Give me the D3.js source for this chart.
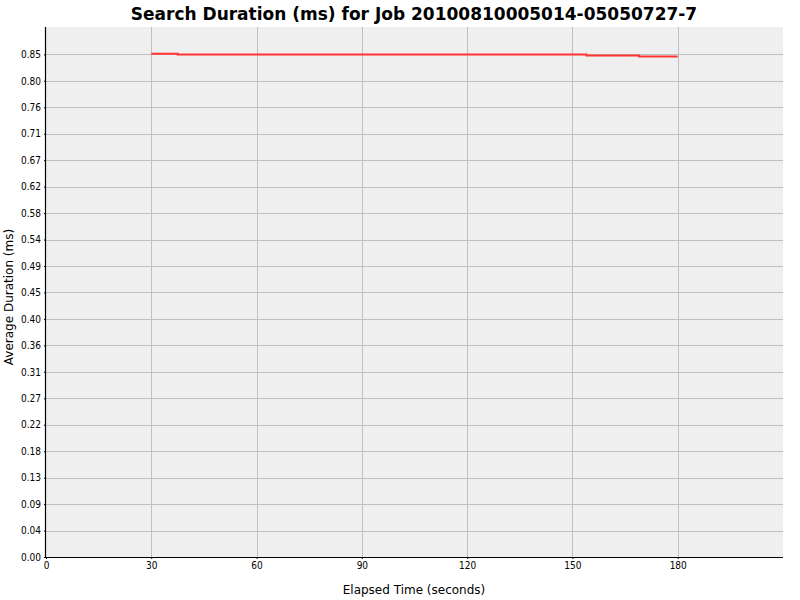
<!DOCTYPE html>
<html>
<head>
<meta charset="utf-8">
<script src="https://cdn.jsdelivr.net/npm/d3@7"></script>
<style>
  body { margin: 0; background: #fff; }
  svg { display: block; font-family: "DejaVu Sans", sans-serif; }
</style>
</head>
<body>
<svg id="chart"></svg>
<script>
var width = 800;
var height = 600;

var chartTitle = 'Search Duration (ms) for Job 20100810005014-05050727-7';

// step points (time in seconds, average duration in ms)
var elapsed = [30, 37.5, 154, 169, 180];
var duration = [0.8485, 0.847, 0.8455, 0.8438, 0.8438];

var xTicks = [0, 30, 60, 90, 120, 150, 180];
var yTicks = [0, 0.0446, 0.0892, 0.1338, 0.1784, 0.223, 0.2676, 0.3122, 0.3568, 0.4014,
              0.446, 0.4906, 0.5352, 0.5798, 0.6244, 0.669, 0.7136, 0.7582, 0.8028, 0.8474];

var margin = {left: 46, right: 17, top: 27, bottom: 43};
var plotW = width - margin.left - margin.right;
var plotH = height - margin.top - margin.bottom;

var x = d3.scaleLinear().domain([0, 210]).range([0, plotW]);
var y = d3.scaleLinear().domain([0, 0.8935]).range([plotH, 0]);

var svg = d3.select('#chart')
  .attr('width', width)
  .attr('height', height);

svg.append('text')
  .attr('x', 414)
  .attr('y', 20)
  .attr('text-anchor', 'middle')
  .style('font-size', '17px')
  .style('font-weight', 'bold')
  .text(chartTitle);

var g = svg.append('g')
  .attr('transform', 'translate(' + margin.left + ',' + margin.top + ')');

g.append('rect')
  .attr('width', plotW)
  .attr('height', plotH)
  .attr('fill', '#efefef');

g.selectAll('line.ygrid').data(yTicks).enter().append('line')
  .attr('class', 'ygrid')
  .attr('x1', 0).attr('x2', plotW)
  .attr('y1', function (d) { return Math.round(y(d)) + 0.5; })
  .attr('y2', function (d) { return Math.round(y(d)) + 0.5; })
  .attr('stroke', '#c0c0c0');

g.selectAll('line.xgrid').data(xTicks.slice(1)).enter().append('line')
  .attr('class', 'xgrid')
  .attr('y1', 0).attr('y2', plotH)
  .attr('x1', function (d) { return Math.round(x(d)) + 0.5; })
  .attr('x2', function (d) { return Math.round(x(d)) + 0.5; })
  .attr('stroke', '#c0c0c0');

var line = d3.line()
  .x(function (d, i) { return x(elapsed[i]); })
  .y(function (d) { return y(d); })
  .curve(d3.curveStepAfter);

g.append('path')
  .datum(duration)
  .attr('d', line)
  .attr('fill', 'none')
  .attr('stroke', '#ff3333')
  .attr('stroke-width', 2);

var xAxis = g.append('g')
  .attr('transform', 'translate(0,' + plotH + ')')
  .call(d3.axisBottom(x).tickValues(xTicks).tickSize(2).tickPadding(3).tickFormat(d3.format('d')));

var yAxis = g.append('g')
  .call(d3.axisLeft(y).tickValues(yTicks).tickSize(2).tickPadding(3).tickFormat(d3.format('.2f')));

[xAxis, yAxis].forEach(function (a) {
  a.select('.domain').attr('stroke', '#000').attr('stroke-width', 1.2);
  a.selectAll('.tick line').attr('stroke', '#000');
  a.selectAll('.tick text').style('font-size', '10px').attr('fill', '#000')
    .style('font-family', '"DejaVu Sans Condensed", "DejaVu Sans", sans-serif');
});
xAxis.select('.domain').attr('d', 'M0,0.5H' + plotW);
yAxis.select('.domain').attr('d', 'M-0.5,' + plotH + 'V0');

svg.append('text')
  .attr('x', 414)
  .attr('y', 594)
  .attr('text-anchor', 'middle')
  .style('font-size', '12px')
  .attr('fill', '#000')
  .text('Elapsed Time (seconds)');

svg.append('text')
  .attr('transform', 'translate(13,297) rotate(-90)')
  .attr('text-anchor', 'middle')
  .style('font-size', '12px')
  .attr('fill', '#000')
  .text('Average Duration (ms)');
</script>
</body>
</html>
